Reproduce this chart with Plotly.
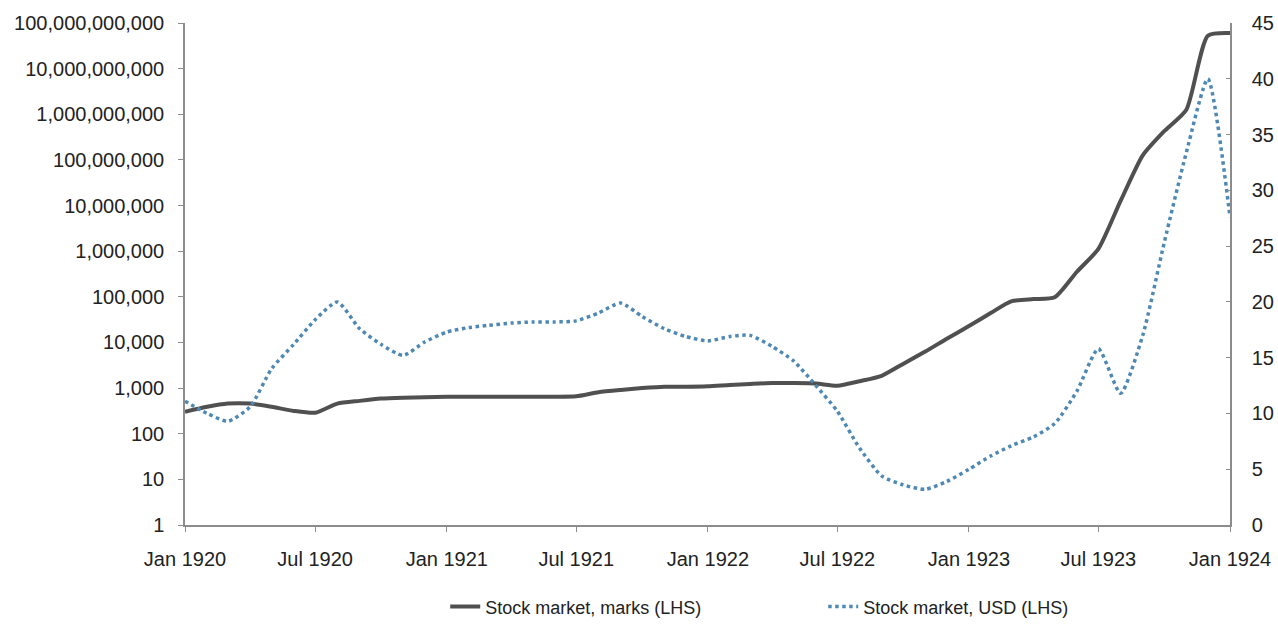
import plotly.graph_objects as go
import pandas as pd

dates = pd.date_range("1920-01-01", "1924-01-01", freq="MS").strftime("%Y-%m-%d").tolist()

# Stock market in marks, log10 of level (LHS, log scale)
marks_log10 = [2.48, 2.59, 2.66, 2.66, 2.59, 2.50, 2.46, 2.66, 2.72, 2.77, 2.79, 2.80,
               2.81, 2.81, 2.81, 2.81, 2.81, 2.81, 2.82, 2.91, 2.96, 3.00, 3.03, 3.03,
               3.04, 3.07, 3.09, 3.11, 3.11, 3.10, 3.05, 3.15, 3.27, 3.53, 3.80, 4.08,
               4.36, 4.65, 4.90, 4.95, 4.99, 5.55, 6.05, 7.10, 8.10, 8.63, 9.10, 10.72,
               10.78]
marks = [10 ** v for v in marks_log10]

# Stock market in USD (right axis)
usd = [11.1, 10.0, 9.3, 10.6, 14.0, 16.2, 18.4, 20.0, 17.6, 16.2, 15.2, 16.4,
       17.3, 17.7, 17.9, 18.1, 18.2, 18.2, 18.3, 19.0, 19.9, 18.7, 17.6, 16.9,
       16.5, 16.9, 17.0, 16.0, 14.7, 12.5, 10.2, 6.9, 4.4, 3.6, 3.2, 3.9,
       5.0, 6.2, 7.1, 7.9, 9.1, 12.0, 15.8, 11.8, 17.0, 25.3, 33.4, 40.0,
       27.6]

left_tickvals = [10 ** i for i in range(12)]
left_ticktext = [f"{v:,}" for v in left_tickvals]
right_tickvals = list(range(0, 50, 5))
x_tickvals = ["1920-01-01", "1920-07-01", "1921-01-01", "1921-07-01", "1922-01-01",
              "1922-07-01", "1923-01-01", "1923-07-01", "1924-01-01"]
x_ticktext = ["Jan 1920", "Jul 1920", "Jan 1921", "Jul 1921", "Jan 1922",
              "Jul 1922", "Jan 1923", "Jul 1923", "Jan 1924"]

tick_font = dict(family="Liberation Sans, Arial, sans-serif", size=20, color="#222222")
legend_font = dict(family="Liberation Sans, Arial, sans-serif", size=18, color="#222222")
axis_color = "#8c8c8c"

fig = go.Figure()
fig.add_trace(go.Scatter(
    x=dates, y=marks, name="Stock market, marks (LHS)", mode="lines",
    line=dict(color="#505050", width=4, shape="spline", smoothing=0.6),
    yaxis="y"))
fig.add_trace(go.Scatter(
    x=dates, y=usd, name="Stock market, USD (LHS)", mode="lines",
    line=dict(color="#4f89b3", width=3.5, dash="dot", shape="spline", smoothing=0.6),
    yaxis="y2"))

fig.update_layout(
    width=1278, height=625,
    margin=dict(l=185, r=48, t=23, b=100, autoexpand=False),
    paper_bgcolor="white", plot_bgcolor="white",
    font=legend_font,
    showlegend=True,
    legend=dict(orientation="h", x=0.249, xanchor="left", y=-0.163, yanchor="middle",
                font=legend_font, entrywidth=333, traceorder="normal"),
    xaxis=dict(type="date", range=["1920-01-01", "1924-01-01"],
               tickvals=x_tickvals, ticktext=x_ticktext,
               showgrid=False, zeroline=False, showline=True, linecolor=axis_color,
               linewidth=1.5, ticks="outside", ticklen=5, tickcolor=axis_color,
               tickfont=tick_font, ticklabelstandoff=10),
    yaxis=dict(type="log", range=[0, 11], tickvals=left_tickvals, ticktext=left_ticktext,
               showgrid=False, zeroline=False, showline=True, linecolor=axis_color,
               linewidth=1.5, ticks="outside", ticklen=5, tickcolor=axis_color,
               tickfont=tick_font, ticklabelstandoff=10),
    yaxis2=dict(overlaying="y", side="right", range=[0, 45], tickvals=right_tickvals,
                showgrid=False, zeroline=False, showline=True, linecolor=axis_color,
                linewidth=1.5, ticks="inside", ticklen=4, tickcolor=axis_color,
                tickfont=tick_font, ticklabelstandoff=16),
)

fig.write_html("out.html")
